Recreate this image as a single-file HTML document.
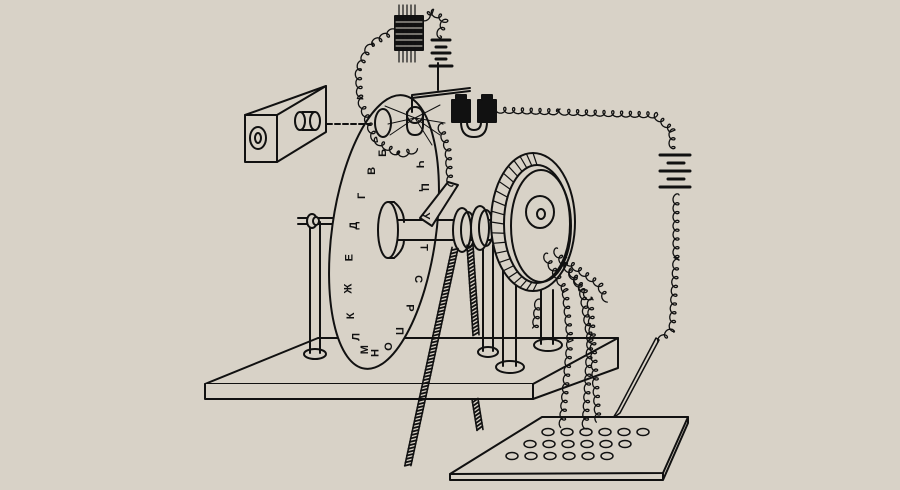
<!DOCTYPE html>
<html><head><meta charset="utf-8">
<style>
html,body{margin:0;padding:0;background:#d8d2c7;}
svg{display:block}
text{font-family:"Liberation Sans","DejaVu Sans",sans-serif;font-weight:bold;fill:#111}
</style></head>
<body>
<svg id="s" width="900" height="490" viewBox="0 0 900 490" xmlns="http://www.w3.org/2000/svg">
<rect width="900" height="490" fill="#d8d2c7"/>
<g fill="none" stroke="#111" stroke-width="2" stroke-linejoin="round" stroke-linecap="round">
<path d="M205,384 L318,338 L618,338 L533,384 Z" fill="#d8d2c7"/>
<path d="M205,384 L205,399 L533,399 L533,384" fill="#d8d2c7"/>
<path d="M533,399 L618,368 L618,338"/>
<g id="ropeB"></g>
<ellipse cx="315" cy="354" rx="11" ry="5" fill="#d8d2c7"/>
<path d="M310,353 L310,222 M320,353 L320,222"/>
<path d="M298,218 L342,218 M298,224 L342,224"/>
<ellipse cx="312" cy="221" rx="5" ry="7" fill="#d8d2c7"/>
<ellipse cx="316" cy="221" rx="3" ry="4" fill="#d8d2c7"/>
<ellipse cx="488" cy="352" rx="10" ry="5" fill="#d8d2c7"/>
<path d="M483,351 L483,245 M493,351 L493,245"/>
<ellipse cx="510" cy="367" rx="14" ry="6" fill="#d8d2c7"/>
<path d="M503,366 L503,262 M516,366 L516,262"/>
<ellipse cx="548" cy="345" rx="14" ry="6" fill="#d8d2c7"/>
<path d="M541,344 L541,290 M553,344 L553,290"/>
<ellipse cx="384" cy="232" rx="52" ry="138" transform="rotate(8 384 232)" fill="#d8d2c7"/>
<path d="M395,220 L500,220 M395,240 L500,240"/>
<ellipse cx="388" cy="230" rx="10" ry="28" fill="#d8d2c7"/>
<path d="M388,202 L394,202 M388,258 L394,258"/>
<path d="M394,202 Q404,210 404,222 M394,258 Q404,250 404,240"/>
<path d="M420,218 L448,182 L458,185 L432,226 Z" fill="#d8d2c7"/>
<ellipse cx="462" cy="230" rx="9" ry="22" fill="#d8d2c7"/>
<ellipse cx="468" cy="230" rx="7" ry="18"/>
<ellipse cx="480" cy="228" rx="9" ry="22" fill="#d8d2c7"/>
<ellipse cx="486" cy="228" rx="7" ry="18"/>
<g id="ropes"></g>
<ellipse cx="533" cy="222" rx="42" ry="69" fill="#d8d2c7"/>
<ellipse cx="537" cy="224" rx="33" ry="59" fill="#d8d2c7"/>
<g stroke-width="1.2" id="spokes"></g>
<ellipse cx="541" cy="226" rx="30" ry="56"/>
<ellipse cx="540" cy="212" rx="14" ry="16" fill="#d8d2c7"/>
<ellipse cx="541" cy="214" rx="4" ry="5"/>
<path d="M245,115 L326,86 L326,132 L277,162" fill="#d8d2c7"/>
<path d="M277,115 L326,86"/>
<rect x="245" y="115" width="32" height="47" fill="#d8d2c7"/>
<ellipse cx="258" cy="138" rx="8" ry="11"/>
<ellipse cx="258" cy="138" rx="3" ry="5"/>
<path d="M302,112 L315,112 M302,130 L315,130"/>
<ellipse cx="300" cy="121" rx="5" ry="9"/>
<ellipse cx="315" cy="121" rx="5" ry="9" fill="#d8d2c7"/>
<path d="M327,124 L370,124" stroke-dasharray="5 3"/>
<ellipse cx="383" cy="123" rx="8" ry="14"/>
<path d="M407,112 L407,125 Q407,135 415,135 Q423,135 423,125 L423,112"/>
<ellipse cx="415" cy="115" rx="8" ry="8" fill="#d8d2c7"/>
<g stroke-width="1">
<path d="M415,118 L385,106 M415,118 L388,124 M415,118 L390,135 M415,118 L440,105 M415,118 L445,123 M415,118 L440,135 M415,118 L432,145"/>
</g>
<path d="M412,112 L412,95 L470,88 M412,98 L470,91"/>
<path d="M438,90 L438,63"/>
<path d="M432,40 L450,40 M436,47 L446,47 M432,53 L450,53 M436,59 L446,59 M430,66 L452,66" stroke-width="3"/>
<rect x="452" y="100" width="18" height="22" fill="#111"/>
<rect x="478" y="100" width="18" height="22" fill="#111"/>
<path d="M456,100 L456,95 L466,95 L466,100 M482,100 L482,95 L492,95 L492,100" fill="#111"/>
<path d="M461,122 Q461,137 474,137 Q487,137 487,122 M467,122 Q467,130 474,130 Q481,130 481,122"/>
<rect x="395" y="16" width="28" height="34" fill="#111"/>
<path d="M399,5 L399,62 M403,5 L403,62 M407,5 L407,62 M411,5 L411,62 M415,5 L415,62" stroke-width="1.2"/>
<g stroke="#d8d2c7" stroke-width="1"><path d="M396,22 L422,22 M396,28 L422,28 M396,34 L422,34 M396,40 L422,40 M396,46 L422,46"/></g>
<path d="M660,155 L690,155 M668,163 L684,163 M660,171 L690,171 M668,179 L684,179 M660,187 L690,187" stroke-width="3"/>
<path d="M656,338 L618,410 L613,418 L620,413 L659,340 Z" fill="#d8d2c7" stroke-width="1.5"/>
<path d="M450,474 L542,417 L688,417 L663,473 Z" fill="#d8d2c7"/>
<path d="M450,474 L450,480 L663,480 L663,473 M663,480 L688,423 L688,417"/>
<g id="holes" stroke-width="1.5"></g>
<g id="coils" stroke-width="1.3"></g>
</g>
<g id="letters" font-size="11"></g>
</svg>
<script>
var NS="http://www.w3.org/2000/svg";
function el(p,t,a){var e=document.createElementNS(NS,t);for(var k in a)e.setAttribute(k,a[k]);p.appendChild(e);return e;}
var H=document.getElementById('holes');
var rows=[[548,432,6],[530,444,6],[512,456,6]];
rows.forEach(function(r){for(var i=0;i<r[2];i++)el(H,'ellipse',{cx:r[0]+i*19,cy:r[1],rx:6,ry:3.5});});
var S=document.getElementById('spokes');
for(var a=90;a<=270;a+=9){var t=a*Math.PI/180;
 el(S,'line',{x1:533+42*Math.cos(t),y1:222+69*Math.sin(t),x2:537+33*Math.cos(t),y2:224+59*Math.sin(t)});}
function rope(g,x1,y1,x2,y2){var G=document.getElementById(g);var dx=x2-x1,dy=y2-y1,len=Math.hypot(dx,dy),ux=dx/len,uy=dy/len,nx=-uy*3,ny=ux*3;
 el(G,'path',{d:'M'+(x1+nx)+','+(y1+ny)+'L'+(x2+nx)+','+(y2+ny)+'M'+(x1-nx)+','+(y1-ny)+'L'+(x2-nx)+','+(y2-ny),'stroke-width':1.6});
 for(var s=0;s<len;s+=3.5){var x=x1+ux*s,y=y1+uy*s;el(G,'line',{x1:x-nx,y1:y-ny,x2:x+nx+ux*3,y2:y+ny+uy*3,'stroke-width':1.8});}}
rope('ropes',455,248,408,465);
rope('ropes',470,245,476,335);
rope('ropeB',475,399,480,430);
var L=document.getElementById('letters');
var chars="БВГДЕЖКЛМНОПРСТУЦЧ".split("");
var cx=387,cy=248,rx=36,ry=106,rot=8*Math.PI/180;
for(var i=0;i<chars.length;i++){
 var ang=(118+i*17.5)*Math.PI/180;
 var x0=rx*Math.cos(ang),y0=-ry*Math.sin(ang);
 var x=cx+x0*Math.cos(rot)-y0*Math.sin(rot),y=cy+x0*Math.sin(rot)+y0*Math.cos(rot);
 var tx=el(L,'text',{x:x,y:y,'text-anchor':'middle','dominant-baseline':'middle',transform:'rotate('+(x<cx?-90:90)+' '+x+' '+y+')'});
 tx.textContent=chars[i];
}
var C=document.getElementById('coils');
function coil(pts,b){b=b||3;var d="",first=true;
 for(var j=0;j<pts.length-1;j++){var p=pts[j],q=pts[j+1];var dx=q[0]-p[0],dy=q[1]-p[1],len=Math.hypot(dx,dy);var ux=dx/len,uy=dy/len,nx=-uy,ny=ux;
  for(var s=0;s<=len;s+=0.6){var th=s/1.4;var a=s-b*Math.sin(th),c=-b*Math.cos(th);
   var x=p[0]+ux*a+nx*c,y=p[1]+uy*a+ny*c;d+=(first?"M":"L")+x.toFixed(1)+","+y.toFixed(1);first=false;}}
 el(C,'path',{d:d});}
coil([[395,30],[370,45],[358,70],[360,100],[375,140],[400,155],[415,150]]);
coil([[423,20],[432,12],[445,20],[438,38]]);
coil([[496,110],[560,112],[655,115],[672,130],[672,150]]);
coil([[676,195],[676,260],[672,330],[660,340]]);
coil([[440,125],[448,150],[450,185]]);
coil([[545,255],[565,290],[570,340],[562,425]]);
coil([[555,250],[582,290],[590,340],[585,428]]);
coil([[565,260],[600,285],[606,300]]);
coil([[570,270],[590,300],[598,420]]);
coil([[538,300],[535,330]]);
</script>
</body></html>
